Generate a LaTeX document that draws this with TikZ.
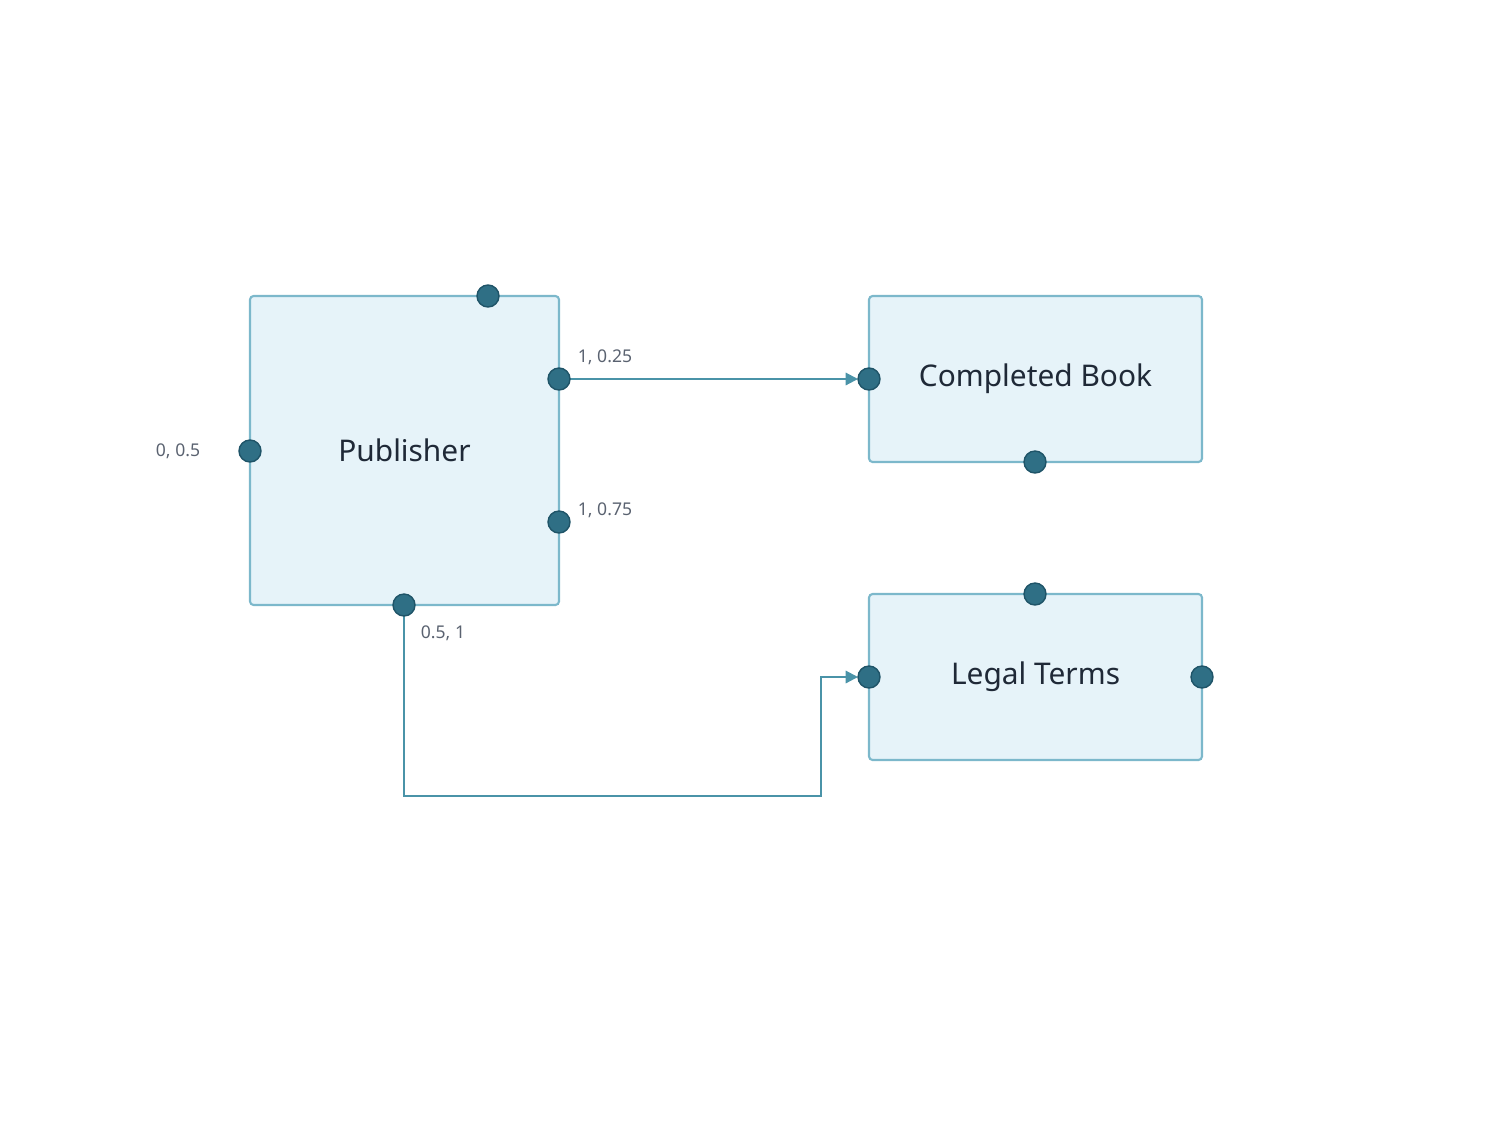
\documentclass[tikz,border=0pt]{standalone}
\usepackage{fontspec}
\setmainfont{Noto Sans}
\usetikzlibrary{arrows.meta}
\definecolor{boxfill}{HTML}{E6F3F9}
\definecolor{boxline}{HTML}{7CB8CB}
\definecolor{portfill}{HTML}{2F6F85}
\definecolor{portline}{HTML}{1F5468}
\definecolor{wire}{HTML}{4A93A8}
\definecolor{labelgray}{HTML}{5A6270}
\definecolor{textdark}{HTML}{1F2937}
\tikzset{
  block/.style={draw=boxline, line width=1.2pt, fill=boxfill, rounded corners=2pt, text=textdark, font=\fontsize{17}{20}\selectfont},
  port/.style={circle, draw=portline, fill=portfill, line width=0.8pt, minimum size=0.44cm, inner sep=0pt},
  tag/.style={text=labelgray, font=\fontsize{10}{12}\selectfont},
  wireline/.style={draw=wire, line width=1.2pt}
}
\begin{document}
\begin{tikzpicture}[x=0.02cm, y=-0.02cm]
\useasboundingbox (0,0) rectangle (1500,1140);
% boxes
\node[block, minimum width=6.18cm, minimum height=6.18cm] (pub) at (404.5,450.5) {Publisher};
\node[block, minimum width=6.66cm, minimum height=3.32cm] (book) at (1035.5,379) {Completed Book};
\node[block, minimum width=6.66cm, minimum height=3.32cm] (legal) at (1035.5,677) {Legal Terms};

% connectors
\coordinate (bend1) at (404,796);
\coordinate (bend2) at (821,796);
\coordinate (bend3) at (821,677);
\draw[wireline, -{Triangle[length=7pt,width=7pt]}] (559,379) coordinate (pr1) -- (858,379);
\draw[wireline, -{Triangle[length=7pt,width=7pt]}] (404,605) -- (bend1) -- (bend2) -- (bend3) -- (858,677);

% ports
\node[port] (pubtop) at (488,296) {};
\node[port] (pubr1) at (pr1) {};
\node[port] (pubr2) at (559,522) {};
\node[port] (publeft) at (250,451) {};
\node[port] (pubbot) at (404,605) {};
\node[port] (bookleft) at (869,379) {};
\node[port] (bookbot) at (1035,462) {};
\node[port] (legaltop) at (1035,594) {};
\node[port] (legalleft) at (869,677) {};
\node[port] (legalright) at (1202,677) {};

% port labels
\node[tag] (t1) at (605,357) {1, 0.25};
\node[tag] (t2) at (605,510) {1, 0.75};
\node[tag] (t3) at (178,451) {0, 0.5};
\node[tag] (t4) at (443,633) {0.5, 1};
\end{tikzpicture}
\end{document}
